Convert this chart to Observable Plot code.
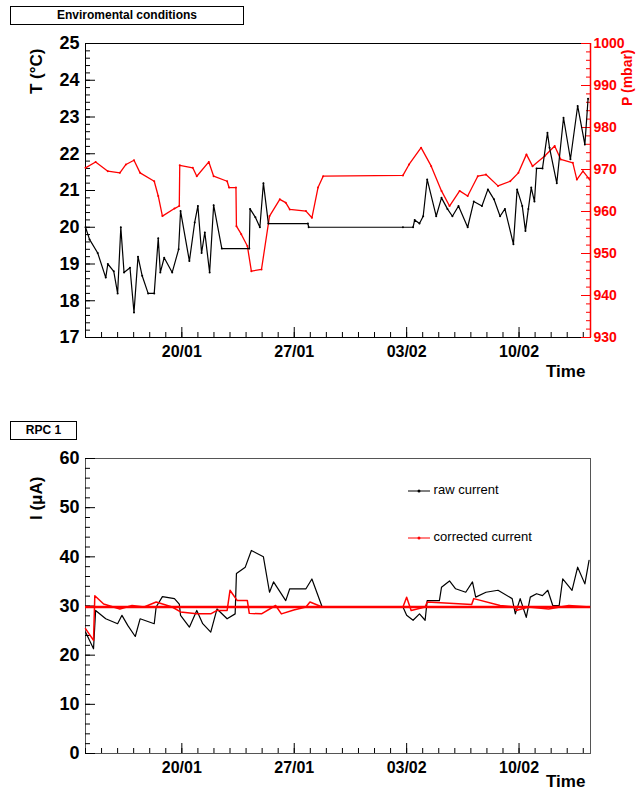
<!DOCTYPE html>
<html><head><meta charset="utf-8">
<script src="https://cdn.jsdelivr.net/npm/d3@7"></script>
<script src="https://cdn.jsdelivr.net/npm/@observablehq/plot@0.6"></script>
<style>
body{margin:0;background:#fff;font-family:"Liberation Sans",Arial,sans-serif;}
#wrap{position:relative;width:637px;height:796px;overflow:hidden;}
.abs{position:absolute;}
.box{border:1px solid #000;font-weight:bold;font-size:12px;text-align:center;line-height:17px;background:#fff;}
.ylab{font-weight:bold;font-size:17px;transform-origin:left top;transform:rotate(-90deg);white-space:nowrap;}
.tl{font-weight:bold;font-size:17px;}
.leg{font-size:13px;}
</style></head><body>
<div id="wrap">
<div class="abs box" style="left:10px;top:6px;width:232px;height:17px;">Enviromental conditions</div>
<div class="abs box" style="left:10px;top:421px;width:65px;height:17px;">RPC 1</div>
<div id="p1" class="abs" style="left:0;top:0"></div>
<div id="p2" class="abs" style="left:0;top:390px"></div>
<div class="abs ylab" style="left:27px;top:94px;">T (°C)</div>
<div class="abs ylab" style="left:619px;top:106px;color:#f00;font-size:14px;">P (mbar)</div>
<div class="abs ylab" style="left:27px;top:520px;">I (μA)</div>
<div class="abs tl" style="left:546px;top:362px;">Time</div>
<div class="abs tl" style="left:546px;top:772px;">Time</div>
<div class="abs leg" style="left:408px;top:482px;"><svg width="22" height="10" style="vertical-align:middle"><line x1="0" y1="5" x2="22" y2="5" stroke="#000"/><circle cx="11" cy="5" r="1.5"/></svg> raw current</div>
<div class="abs leg" style="left:408px;top:529px;"><svg width="22" height="10" style="vertical-align:middle"><line x1="0" y1="5" x2="22" y2="5" stroke="#f00"/><circle cx="11" cy="5" r="1.5" fill="#f00"/></svg> corrected current</div>
</div>
<script>
// day offsets from 14/01
const tDays = [0,0.25,0.76,1.26,1.39,1.76,2.0,2.2,2.4,2.77,3.02,3.27,3.53,3.9,4.28,4.53,4.66,4.9,5.4,5.8,5.92,6.47,6.8,7.0,7.23,7.43,7.73,7.98,8.49,10.2,10.25,10.58,10.86,11.08,11.39,13.85,13.9,19.77,20.4,20.5,20.8,21.03,21.28,21.84,22.17,22.54,22.85,23.23,23.8,24.18,24.69,25.06,25.44,25.82,26.12,26.65,26.88,27.2,27.4,27.58,27.76,27.96,28.09,28.46,28.77,28.9,29.35,29.77,30.2,30.65,31.1,31.3];
const tVals = [20.0,19.67,19.3,18.63,19.0,18.8,18.2,20.0,18.77,18.9,17.68,19.2,18.68,18.2,18.2,19.7,18.77,19.17,18.77,19.4,20.44,19.08,20.13,20.58,19.3,19.86,18.77,20.6,19.42,19.42,20.5,20.27,20.0,21.2,20.1,20.1,20.0,20.0,20.0,20.2,20.1,20.3,21.3,20.3,20.8,20.5,20.3,20.58,20.0,20.7,20.58,21.03,20.76,20.3,20.5,19.54,21.03,20.58,19.9,20.5,21.08,20.7,21.6,21.6,22.57,22.16,21.2,22.98,21.85,23.3,22.25,23.5];
const pDays = [0,0.63,1.39,2.14,2.52,3.02,3.4,4.28,4.53,4.79,5.54,5.84,5.87,6.68,6.93,7.68,7.98,8.82,8.94,9.37,9.4,9.7,10.08,10.33,10.96,11.46,12.1,12.47,12.72,13.73,14.1,14.48,14.8,19.77,20.15,20.9,21.53,22.17,22.67,23.3,23.8,24.43,24.94,25.69,26.45,26.96,27.46,27.84,28.6,29.22,29.6,30.35,30.6,30.98,31.4];
const pVals = [970.4,971.8,969.6,969.2,971.2,972.2,969.2,967.2,963.7,958.9,960.7,961.3,971.0,970.4,968.4,971.8,968.4,967.2,965.7,965.7,956.5,954.6,951.8,945.8,946.2,958.9,962.9,962.1,960.5,960.1,958.5,965.7,968.4,968.6,971.2,975.2,970.8,964.9,961.3,964.9,963.7,968.4,968.8,966.1,967.2,969.2,973.6,970.8,973.2,975.6,972.4,971.6,967.6,969.6,967.6];
const rawDays = [0,0.5,0.63,1.26,2.0,2.27,2.64,3.1,3.4,4.28,4.4,4.79,5.54,5.84,5.92,6.47,6.93,7.3,7.8,8.19,8.82,9.32,9.4,9.95,10.33,11.08,11.46,11.71,12.47,12.72,13.73,14.1,14.74,19.77,20.0,20.4,20.8,21.15,21.28,22.04,22.17,22.67,23.05,23.68,24.1,24.3,24.94,25.69,26.57,26.77,27.07,27.45,27.7,28.09,28.46,28.79,29.1,29.5,29.72,30.3,30.65,31.1,31.36];
const rawVals = [24.7,21.3,29.1,27.4,26.4,28.1,26.0,23.8,27.4,26.4,29.8,31.9,31.5,30.4,28.1,25.7,29.1,26.4,24.7,29.4,27.4,28.4,36.6,37.9,41.3,40.0,32.8,34.9,31.1,33.5,33.5,35.5,29.8,29.8,28.1,27.1,28.4,27.1,31.1,31.1,33.8,35.1,33.5,32.8,34.9,31.8,32.8,33.2,31.5,28.4,31.5,27.7,31.8,32.5,32.1,33.2,30.1,30.1,35.5,33.2,37.9,34.5,39.3];
const corDays = [0,0.5,0.58,1.13,2.14,2.9,3.65,4.4,5.4,5.92,6.93,7.8,8.19,8.82,9.0,9.45,10.08,10.2,10.96,11.84,12.2,12.97,13.73,13.98,14.74,19.77,20.0,20.28,21.15,21.28,24.05,24.18,25.82,26.7,26.83,27.58,28.84,30.1,31.4];
const corVals = [25.4,23.0,32.1,30.4,29.4,30.1,29.8,30.8,29.8,28.8,28.4,28.4,29.1,29.1,33.2,31.1,31.1,28.5,28.4,30.1,28.4,29.2,29.8,30.8,29.8,29.8,31.8,29.1,29.8,30.8,30.3,31.5,30.1,29.8,29.1,29.8,29.4,30.1,29.8];
const refLevel = 29.8;
const tTicks = [17,18,19,20,21,22,23,24,25];
const pTicks = [930,940,950,960,970,980,990,1000];
const iTicks = [0,10,20,30,40,50,60];
const dateTicks = ["2010-01-20","2010-01-27","2010-02-03","2010-02-10"];

const t0 = Date.UTC(2010,0,14);
const D = d => new Date(t0 + d*864e5);
const domainX = [D(0), D(31.45)];
const toT = p => 17 + (p-930)*8/70;
const fromT = t => String(Math.round(930 + (t-17)*70/8));
const majX = dateTicks.map(s => new Date(s+"T00:00Z"));
const minX = d3.range(0,32).map(D);
const fmt = d3.utcFormat("%d/%m");
const F = "Liberation Sans, Arial, sans-serif";

function xAxes(){
  return [
    Plot.axisX({ticks: minX, tickSize:-5, tickFormat:()=>"" }),
    Plot.axisX({ticks: majX, tickSize:-10, tickFormat:()=>"" }),
    Plot.axisX({ticks: majX, tickSize:0, tickPadding:8, tickFormat: fmt, fontSize:16, fontWeight:"bold", label:null})
  ];
}

const tData = tDays.map((d,i)=>({x:D(d), y:tVals[i]}));
const pData = pDays.map((d,i)=>({x:D(d), y:toT(pVals[i])}));
const minT = d3.range(17,25.001,0.2).map(v=>+v.toFixed(1));
const minP = d3.range(930,1000.1,2).map(toT);

const p1 = Plot.plot({
  width:637, height:390, marginLeft:85, marginRight:47, marginTop:43, marginBottom:53,
  style:{fontFamily:F, background:"transparent", overflow:"visible"},
  x:{type:"utc", domain:domainX, label:null},
  y:{domain:[17,25], label:null},
  marks:[
    Plot.frame({stroke:"#000"}),
    Plot.axisY({ticks:minT, tickSize:-5, tickFormat:()=>""}),
    Plot.axisY({ticks:tTicks, tickSize:-10, tickFormat:()=>""}),
    Plot.axisY({ticks:tTicks, tickSize:0, tickPadding:6, fontSize:18, fontWeight:"bold", label:null}),
    Plot.axisY({anchor:"right", ticks:minP, tickSize:-5, tickFormat:()=>"", stroke:"#f00", color:"#f00"}),
    Plot.axisY({anchor:"right", ticks:pTicks.map(toT), tickSize:-10, tickFormat:()=>"", stroke:"#f00", color:"#f00"}),
    Plot.ruleX([domainX[1]], {stroke:"#f00", strokeWidth:1.5}),
    Plot.axisY({anchor:"right", ticks:pTicks.map(toT), tickSize:0, tickPadding:3, tickFormat:fromT, fontSize:14, fontWeight:"bold", fill:"#f00", label:null}),
    ...xAxes(),
    Plot.line(pData, {x:"x", y:"y", stroke:"#f00", strokeWidth:1.3}),
    Plot.dot(pData, {x:"x", y:"y", fill:"#f00", r:1}),
    Plot.line(tData, {x:"x", y:"y", stroke:"#000", strokeWidth:1.2}),
    Plot.dot(tData, {x:"x", y:"y", fill:"#000", r:1})
  ]
});
document.getElementById("p1").append(p1);

const rawData = rawDays.map((d,i)=>({x:D(d), y:rawVals[i]}));
const corData = corDays.map((d,i)=>({x:D(d), y:corVals[i]}));
const minI = d3.range(0,60.1,2);
const p2 = Plot.plot({
  width:637, height:406, marginLeft:85, marginRight:47, marginTop:68, marginBottom:43,
  style:{fontFamily:F, background:"transparent", overflow:"visible"},
  x:{type:"utc", domain:domainX, label:null},
  y:{domain:[0,60], label:null},
  marks:[
    Plot.frame({stroke:"#555"}),
    Plot.axisY({ticks:minI, tickSize:-5, tickFormat:()=>""}),
    Plot.axisY({ticks:iTicks, tickSize:-10, tickFormat:()=>""}),
    Plot.axisY({ticks:iTicks, tickSize:0, tickPadding:6, fontSize:18, fontWeight:"bold", label:null}),
    ...xAxes(),
    Plot.line(rawData, {x:"x", y:"y", stroke:"#000", strokeWidth:1.2}),
    Plot.line(corData, {x:"x", y:"y", stroke:"#f00", strokeWidth:1.5}),
    Plot.ruleY([refLevel], {stroke:"#f00", strokeWidth:2.5})
  ]
});
document.getElementById("p2").append(p2);
</script>
</body></html>
